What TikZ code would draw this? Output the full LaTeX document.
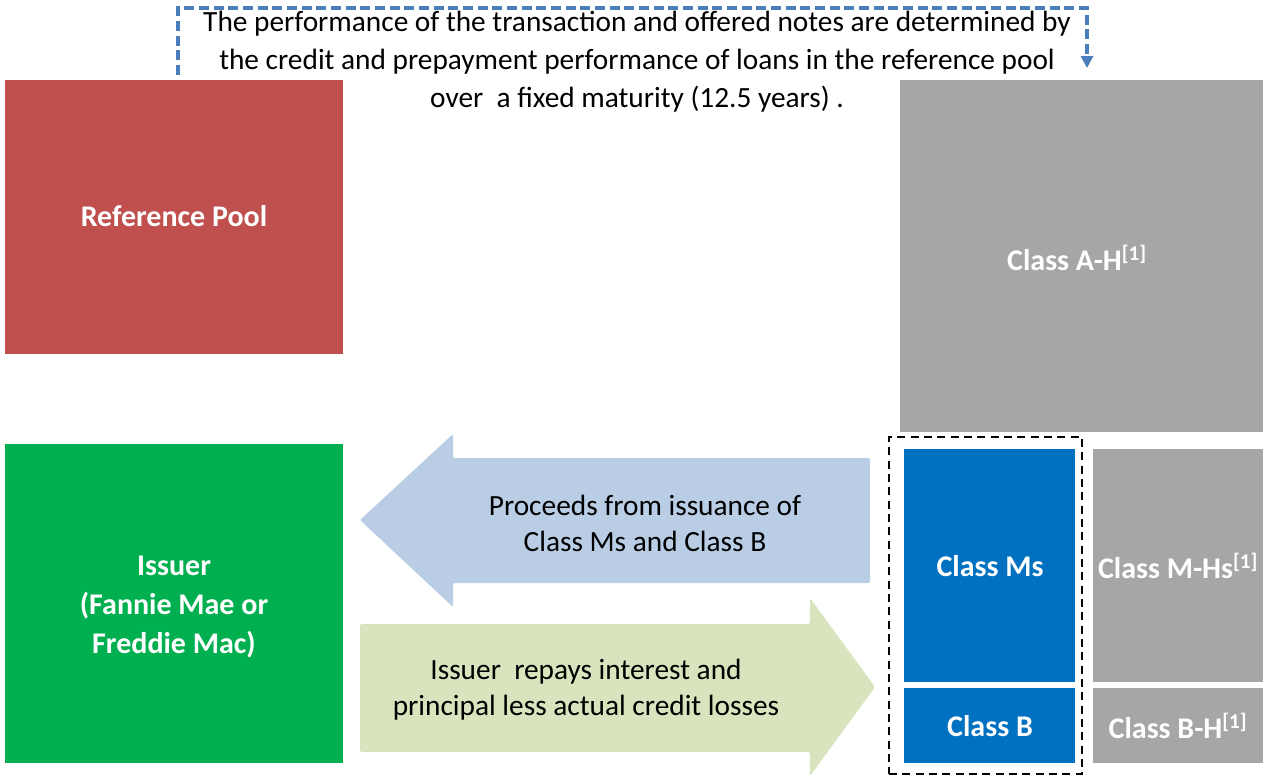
\documentclass[tikz,border=0pt]{standalone}
\usepackage{fontspec}
\setmainfont{Carlito}
\usetikzlibrary{arrows.meta,fit}
\definecolor{poolred}{HTML}{C0504D}
\definecolor{tranchegray}{HTML}{A6A6A6}
\definecolor{issuergreen}{HTML}{00B050}
\definecolor{noteblue}{HTML}{0070C0}
\definecolor{arrowblue}{HTML}{B9CDE5}
\definecolor{arrowgreen}{HTML}{D7E4BD}
\definecolor{linkblue}{HTML}{4A7EBB}
\begin{document}
\begin{tikzpicture}[x=0.75pt,y=-0.75pt,
  block/.style={rectangle, inner sep=0pt, draw=none, text=white,
    font=\bfseries\fontsize{22.5}{29.5}\selectfont, align=center},
  flowtext/.style={inner sep=0pt, align=center, text=black,
    font=\fontsize{22}{27}\selectfont},
  notetext/.style={inner sep=0pt, align=center, text=black,
    font=\fontsize{22}{28.5}\selectfont},
  frame/.style={draw=black, line width=1.5pt, dash pattern=on 6pt off 4pt, inner sep=0pt},
  link/.style={draw=linkblue, line width=2.3pt, dash pattern=on 7.5pt off 3.5pt,
    -{Triangle[width=9pt,length=9pt]}}]
\useasboundingbox (0,0) rectangle (1263,776);

% pool and issuer
\node[block, fill=poolred, fit={(5,80) (343,354)}] (pool) {};
\node[block] at (174,216) (poollabel) {Reference Pool};
\node[block, fill=issuergreen, fit={(5,444) (343,763)}] (issuer) {};
\node[block] at (174,607) (issuerlabel) {Issuer\\(Fannie Mae or\\Freddie Mac)};

% tranches
\node[block, fill=tranchegray, fit={(900,80) (1263,432)}] (ah) {};
\node[block] at (1077,258) (ahlabel) {Class A-H\textsuperscript{[1]}};
\node[block, fill=noteblue, fit={(904,449) (1075,682)}] (ms) {};
\node[block] at (990,566) (mslabel) {Class Ms};
\node[block, fill=noteblue, fit={(904,688) (1075,763)}] (clb) {};
\node[block] at (990,726) (clblabel) {Class B};
\node[block, fill=tranchegray, fit={(1093,449) (1263,682)}] (mh) {};
\node[block] at (1178,566) (mhlabel) {Class M-Hs\textsuperscript{[1]}};
\node[block, fill=tranchegray, fit={(1093,688) (1263,763)}] (bh) {};
\node[block] at (1178,726) (bhlabel) {Class B-H\textsuperscript{[1]}};

% offered notes group
\node[frame, fit={(889,437) (1082,774)}] (offered) {};

% cash flow arrows
\fill[arrowblue, rounded corners=1.5pt] (360,520) -- (453,434) -- (453,458) -- (870,458)
  -- (870,583) -- (453,583) -- (453,607) -- cycle;
\node[flowtext] at (645,523) (proceeds) {Proceeds from issuance of\\Class Ms and Class B};
\fill[arrowgreen, rounded corners=1.5pt] (360,624) -- (810,624) -- (810,598) -- (875,687)
  -- (810,776) -- (810,752) -- (360,752) -- cycle;
\node[flowtext] at (586,690) (repays) {Issuer\ \ repays interest and\\principal less actual credit losses};

% performance note and its link
\node[notetext] at (637,62) (note) {The performance of the transaction and offered notes are determined by\\
  the credit and prepayment performance of loans in the reference pool\\
  over\ \ a fixed maturity (12.5 years) .};
\coordinate (linkstart) at (178,75);
\coordinate (linkend) at (1087,68);
\draw[link] (linkstart) |- (1087,8) -- (linkend);
\end{tikzpicture}
\end{document}
